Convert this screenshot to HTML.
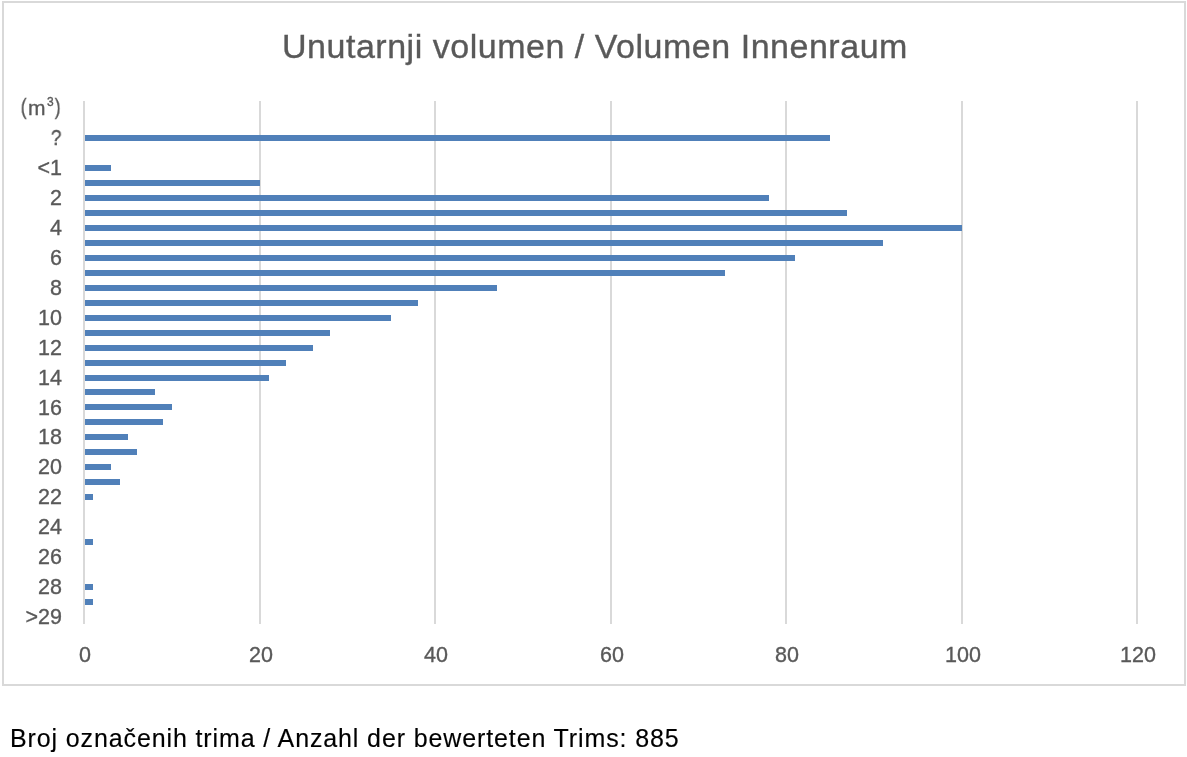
<!DOCTYPE html><html><head><meta charset="utf-8"><style>
.t,.yl,.xl{will-change:transform;-webkit-text-stroke:0.35px currentColor}
html,body{margin:0;padding:0;background:#fff;width:1187px;height:757px;overflow:hidden;position:relative}
*{box-sizing:border-box}
.t{position:absolute;font-family:"Liberation Sans",sans-serif;white-space:nowrap;line-height:1}
.g{position:absolute;background:#d9d9d9}
.b{position:absolute;background:#5080b9}
.yl{position:absolute;font-family:"Liberation Sans",sans-serif;font-size:21.5px;line-height:1;color:#595959;white-space:nowrap;text-align:right;width:100px}
.xl{position:absolute;font-family:"Liberation Sans",sans-serif;font-size:21.5px;line-height:1;color:#595959;white-space:nowrap;text-align:center;width:100px}
</style></head><body>

<div style="position:absolute;left:2px;top:1px;width:1184px;height:685px;border:2px solid #d9d9d9"></div>
<div class="t" style="left:281.5px;top:29.2px;font-size:34px;letter-spacing:0.52px;color:#595959">Unutarnji volumen / Volumen Innenraum</div>
<div class="g" style="left:83.00px;top:101.0px;width:2px;height:523.0px"></div>
<div class="g" style="left:259.00px;top:101.0px;width:2px;height:523.0px"></div>
<div class="g" style="left:434.00px;top:101.0px;width:2px;height:523.0px"></div>
<div class="g" style="left:610.00px;top:101.0px;width:2px;height:523.0px"></div>
<div class="g" style="left:785.00px;top:101.0px;width:2px;height:523.0px"></div>
<div class="g" style="left:961.00px;top:101.0px;width:2px;height:523.0px"></div>
<div class="g" style="left:1136.00px;top:101.0px;width:2px;height:523.0px"></div>
<div class="b" style="left:85px;top:135px;width:745px;height:6.0px"></div>
<div class="b" style="left:85px;top:165px;width:26px;height:6.0px"></div>
<div class="b" style="left:85px;top:180px;width:175px;height:6.0px"></div>
<div class="b" style="left:85px;top:195px;width:684px;height:6.0px"></div>
<div class="b" style="left:85px;top:210px;width:762px;height:6.0px"></div>
<div class="b" style="left:85px;top:225px;width:877px;height:5.5px"></div>
<div class="b" style="left:85px;top:240px;width:798px;height:5.5px"></div>
<div class="b" style="left:85px;top:255px;width:710px;height:5.5px"></div>
<div class="b" style="left:85px;top:270px;width:640px;height:5.5px"></div>
<div class="b" style="left:85px;top:285px;width:412px;height:5.5px"></div>
<div class="b" style="left:85px;top:300px;width:333px;height:5.5px"></div>
<div class="b" style="left:85px;top:315px;width:306px;height:5.5px"></div>
<div class="b" style="left:85px;top:330px;width:245px;height:5.5px"></div>
<div class="b" style="left:85px;top:345px;width:228px;height:5.5px"></div>
<div class="b" style="left:85px;top:360px;width:201px;height:5.5px"></div>
<div class="b" style="left:85px;top:375px;width:184px;height:5.5px"></div>
<div class="b" style="left:85px;top:389px;width:70px;height:5.5px"></div>
<div class="b" style="left:85px;top:404px;width:87px;height:5.5px"></div>
<div class="b" style="left:85px;top:419px;width:78px;height:5.5px"></div>
<div class="b" style="left:85px;top:434px;width:43px;height:5.5px"></div>
<div class="b" style="left:85px;top:449px;width:52px;height:5.5px"></div>
<div class="b" style="left:85px;top:464px;width:26px;height:5.5px"></div>
<div class="b" style="left:85px;top:479px;width:35px;height:5.5px"></div>
<div class="b" style="left:85px;top:494px;width:8px;height:5.5px"></div>
<div class="b" style="left:85px;top:539px;width:8px;height:5.5px"></div>
<div class="b" style="left:85px;top:584px;width:8px;height:5.5px"></div>
<div class="b" style="left:85px;top:599px;width:8px;height:5.5px"></div>
<div class="t" style="left:20.30px;top:96.08px;font-size:22px;color:#595959;transform:scaleX(0.8)">(</div>
<div class="t" style="left:27.50px;top:96.92px;font-size:21px;color:#595959;">m</div>
<div class="t" style="left:46.50px;top:96.14px;font-size:12px;color:#595959;">3</div>
<div class="t" style="left:54.30px;top:96.08px;font-size:22px;color:#595959;transform:scaleX(0.8)">)</div>
<div class="t" style="left:50.20px;top:126.78px;font-size:22px;color:#595959;transform:scaleX(0.87)">?</div>
<div class="yl" style="left:-38.0px;top:158.20px">&lt;1</div>
<div class="yl" style="left:-38.0px;top:188.12px">2</div>
<div class="yl" style="left:-38.0px;top:218.03px">4</div>
<div class="yl" style="left:-38.0px;top:247.95px">6</div>
<div class="yl" style="left:-38.0px;top:277.86px">8</div>
<div class="yl" style="left:-38.0px;top:307.77px">10</div>
<div class="yl" style="left:-38.0px;top:337.69px">12</div>
<div class="yl" style="left:-38.0px;top:367.60px">14</div>
<div class="yl" style="left:-38.0px;top:397.52px">16</div>
<div class="yl" style="left:-38.0px;top:427.43px">18</div>
<div class="yl" style="left:-38.0px;top:457.35px">20</div>
<div class="yl" style="left:-38.0px;top:487.26px">22</div>
<div class="yl" style="left:-38.0px;top:517.17px">24</div>
<div class="yl" style="left:-38.0px;top:547.09px">26</div>
<div class="yl" style="left:-38.0px;top:577.00px">28</div>
<div class="yl" style="left:-38.0px;top:606.92px">&gt;29</div>
<div class="xl" style="left:34.60px;top:645.0px">0</div>
<div class="xl" style="left:210.60px;top:645.0px">20</div>
<div class="xl" style="left:385.60px;top:645.0px">40</div>
<div class="xl" style="left:561.60px;top:645.0px">60</div>
<div class="xl" style="left:736.60px;top:645.0px">80</div>
<div class="xl" style="left:912.60px;top:645.0px">100</div>
<div class="xl" style="left:1087.60px;top:645.0px">120</div>
<div class="t" style="left:10.1px;top:725.8px;font-size:25px;letter-spacing:0.88px;color:#000;-webkit-text-stroke:0.15px #000">Broj označenih trima / Anzahl der bewerteten Trims: 885</div>
</body></html>
